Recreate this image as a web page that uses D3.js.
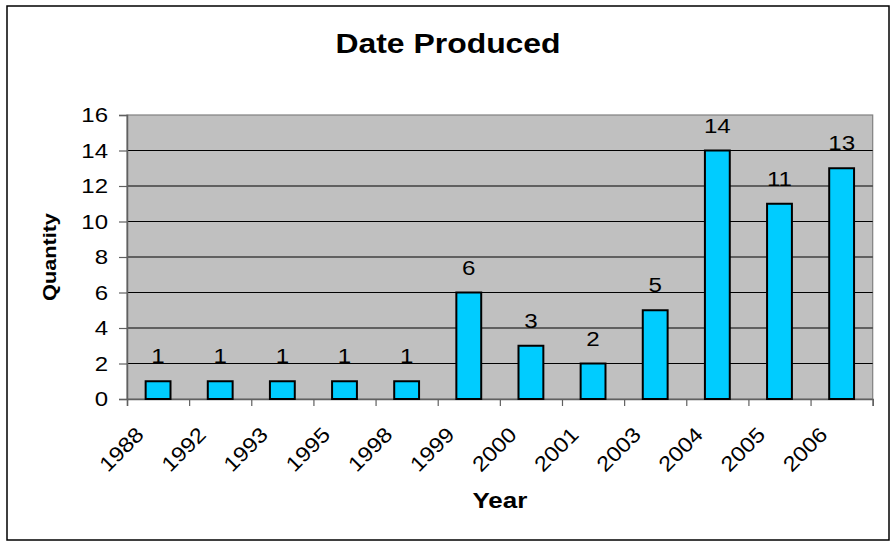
<!DOCTYPE html>
<html>
<head>
<meta charset="utf-8">
<script src="https://cdn.jsdelivr.net/npm/d3@7"></script>
<style>
  body { margin: 0; background: #fff; }
  text { font-family: "Liberation Sans", Arial, sans-serif; fill: #000; }
</style>
</head>
<body>
<svg id="chart" width="891" height="542"></svg>
<script>
// chart data
var years = ['1988', '1992', '1993', '1995', '1998', '1999', '2000', '2001', '2003', '2004', '2005', '2006'];
var quantities = [1, 1, 1, 1, 1, 6, 3, 2, 5, 14, 11, 13];
var yTicks = [0, 2, 4, 6, 8, 10, 12, 14, 16];

var svg = d3.select('#chart');

// plot area box
var plot = {l: 127, r: 872.7, t: 115, b: 399};

// outer frame
svg.append('rect')
    .attr('x', 7).attr('y', 6)
    .attr('width', 882).attr('height', 534)
    .attr('fill', '#fff')
    .attr('stroke', '#000')
    .attr('stroke-width', 1.5);

var x = d3.scaleBand().domain(years).range([plot.l, plot.r]).padding(0);
var xIdx = d3.scaleLinear().domain([0, years.length]).range([plot.l, plot.r]);
var y = d3.scaleLinear().domain([0, 16]).range([plot.b, plot.t]);

// gray plot background
svg.append('rect')
    .attr('x', plot.l).attr('y', plot.t)
    .attr('width', plot.r - plot.l).attr('height', plot.b - plot.t)
    .attr('fill', '#c0c0c0')
    .attr('stroke', '#808080')
    .attr('stroke-width', 1.2);

// horizontal gridlines
svg.append('g').selectAll('line')
    .data(yTicks.filter(function(d) { return d > 0 && d < 16; }))
    .enter().append('line')
    .attr('x1', plot.l).attr('x2', plot.r)
    .attr('y1', function(d) { return y(d); })
    .attr('y2', function(d) { return y(d); })
    .attr('stroke', '#000')
    .attr('stroke-width', 1);

// helper for the slightly wide text look
function stretched(sel, tx, ty, rot, s) {
    sel.attr('transform', function(d, i) {
        var px = typeof tx === 'function' ? tx(d, i) : tx;
        var py = typeof ty === 'function' ? ty(d, i) : ty;
        return 'translate(' + px + ',' + py + ') rotate(' + rot + ') scale(' + s + ',1)';
    });
}

// y axis
var yAxis = d3.axisLeft(y).tickValues(yTicks).tickSize(8).tickFormat('');
var yG = svg.append('g')
    .attr('transform', 'translate(' + plot.l + ',0)')
    .call(yAxis);
yG.select('.domain').attr('stroke', '#606060').attr('stroke-width', 1.5);
yG.selectAll('.tick line').attr('stroke', '#606060').attr('stroke-width', 1.2);

svg.append('g').selectAll('text')
    .data(yTicks)
    .enter().append('text')
    .attr('text-anchor', 'end')
    .attr('dy', '0.36em')
    .style('font-size', '20px')
    .text(function(d) { return d; })
    .call(stretched, 108, function(d) { return y(d); }, 0, 1.2);

// x axis (ticks between categories)
var xAxis = d3.axisBottom(xIdx).tickValues(d3.range(years.length + 1)).tickSize(7).tickFormat('');
var xG = svg.append('g')
    .attr('transform', 'translate(0,' + plot.b + ')')
    .call(xAxis);
xG.select('.domain').attr('stroke', '#606060').attr('stroke-width', 1.5);
xG.selectAll('.tick line').attr('stroke', '#606060').attr('stroke-width', 1.2);

svg.append('g').selectAll('text')
    .data(years)
    .enter().append('text')
    .attr('text-anchor', 'end')
    .style('font-size', '21px')
    .text(function(d) { return d; })
    .call(stretched, function(d) { return x(d) + x.bandwidth() / 2 - 13; }, 436, -45, 1.12);

// bars
var barW = x.bandwidth() * 0.4;
svg.append('g').selectAll('rect')
    .data(quantities)
    .enter().append('rect')
    .attr('x', function(d, i) { return x(years[i]) + (x.bandwidth() - barW) / 2; })
    .attr('y', function(d) { return y(d); })
    .attr('width', barW)
    .attr('height', function(d) { return plot.b - y(d); })
    .attr('fill', '#00ccff')
    .attr('stroke', '#000')
    .attr('stroke-width', 2);

// value labels
svg.append('g').selectAll('text')
    .data(quantities)
    .enter().append('text')
    .attr('text-anchor', 'middle')
    .style('font-size', '21px')
    .text(function(d) { return d; })
    .call(stretched, function(d, i) { return x(years[i]) + x.bandwidth() / 2; },
        function(d) { return y(d) - 18; }, 0, 1.15);

// titles
svg.append('text')
    .attr('text-anchor', 'middle')
    .style('font-size', '28px').style('font-weight', 'bold')
    .text('Date Produced')
    .call(stretched, 448, 53, 0, 1.14);

svg.append('text')
    .attr('text-anchor', 'middle')
    .style('font-size', '22px').style('font-weight', 'bold')
    .text('Year')
    .call(stretched, (plot.l + plot.r) / 2, 508, 0, 1.18);

svg.append('text')
    .attr('text-anchor', 'middle')
    .style('font-size', '19px').style('font-weight', 'bold')
    .text('Quantity')
    .call(stretched, 56, (plot.t + plot.b) / 2, -90, 1.14);
</script>
</body>
</html>
